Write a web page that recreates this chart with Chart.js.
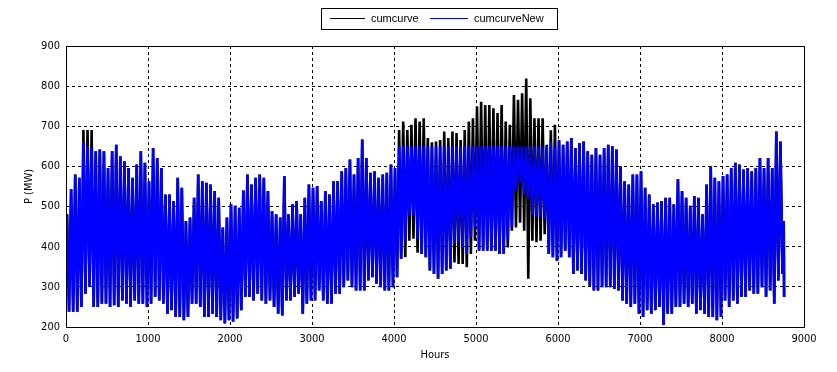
<!DOCTYPE html>
<html>
<head>
<meta charset="utf-8">
<script src="https://cdn.jsdelivr.net/npm/chart.js@4"></script>
<style>
  html, body { margin: 0; padding: 0; background: #fff; }
  #wrap { width: 837px; height: 372px; }
</style>
</head>
<body>
<div id="wrap"><canvas id="myChart" width="837" height="372"></canvas></div>
<script>
// each value is one 50 h block (0-50, 50-100, ... 8750-8760)
var blockHours = 50;
var lastHour = 8760;

// cumcurveNew: peak of the block, then valley of the block (MW)
var newPeak = [
  481,543,580,572,662,650,646,638,642,638,
  596,638,654,625,613,596,572,605,638,609,
  563,646,621,596,530,530,514,572,547,464,
  473,522,580,563,559,555,539,522,448,473,
  506,502,497,540,580,555,572,580,572,539,
  489,481,473,576,481,506,514,481,522,555,
  547,551,514,539,530,563,563,588,596,617,
  580,621,667,621,584,588,572,580,584,605,
  596,650,650,650,650,650,650,650,650,650,
  650,650,650,650,650,650,650,650,650,650,
  650,650,650,650,650,650,650,650,650,650,
  650,650,650,650,650,650,650,650,660,650,
  665,654,662,671,646,658,662,638,629,646,
  629,646,654,650,642,600,563,555,580,580,
  588,547,530,506,510,514,522,522,506,568,
  539,522,502,526,522,481,555,600,572,563,
  576,580,596,609,605,592,596,588,596,621,
  596,621,596,687,662,464];
var newValley = [
  238,238,238,250,283,300,250,250,258,258,
  250,254,250,266,258,250,266,258,258,250,
  258,275,266,258,233,242,225,225,217,225,
  258,258,250,225,225,233,225,217,209,217,
  213,221,242,275,275,266,283,266,258,266,
  250,233,229,266,266,275,283,233,258,266,
  266,291,266,258,258,283,283,299,316,299,
  291,291,291,316,324,308,299,291,291,299,
  324,370,415,480,480,420,382,374,341,332,
  320,332,341,345,407,415,398,382,423,448,
  390,390,390,390,390,382,382,420,450,540,
  560,530,520,480,475,475,470,382,374,365,
  374,390,374,332,341,332,316,303,291,291,
  299,299,299,295,291,266,258,250,258,233,
  225,242,233,242,250,205,233,233,250,250,
  258,250,258,233,242,233,225,225,217,225,
  266,250,266,258,275,275,291,283,283,299,
  275,291,258,316,332,275];

// cumcurve: original load, peaks above 650 MW not shaved
var oldPeak = [
  481,543,580,572,691,691,691,638,642,638,
  596,638,654,625,613,596,572,605,638,609,
  563,646,621,596,530,530,514,572,547,464,
  473,522,580,563,559,555,539,522,448,473,
  506,502,497,540,580,555,572,580,572,539,
  489,481,473,576,481,506,514,481,522,555,
  547,551,514,539,530,563,563,588,596,617,
  580,621,667,621,584,588,572,580,584,605,
  596,691,712,691,704,720,712,720,671,660,
  662,666,687,671,687,683,666,691,712,720,
  749,761,753,753,745,733,753,712,704,778,
  766,782,819,770,720,720,720,654,690,704,
  665,654,662,671,646,658,662,638,629,646,
  629,646,654,650,642,600,563,555,580,580,
  588,547,530,506,510,514,522,522,506,568,
  539,522,502,526,522,481,555,600,572,563,
  576,580,596,609,605,592,596,588,596,621,
  596,621,596,687,662,464];
var oldValley = [
  238,238,238,250,283,300,250,250,258,258,
  250,254,250,266,258,250,266,258,258,250,
  258,275,266,258,233,242,225,225,217,225,
  258,258,250,225,225,233,225,217,209,217,
  213,221,242,275,275,266,283,266,258,266,
  250,233,229,266,266,275,283,233,258,266,
  266,291,266,258,258,283,283,299,316,299,
  291,291,291,316,324,308,299,291,291,299,
  324,370,374,415,420,385,382,374,341,332,
  320,332,341,345,361,357,357,349,382,415,
  390,390,390,390,390,382,382,398,440,448,
  460,440,320,415,411,415,431,382,374,365,
  374,390,374,332,341,332,316,303,291,291,
  299,299,299,295,291,266,258,250,258,233,
  225,242,233,242,250,205,233,233,250,250,
  258,250,258,233,242,233,225,225,217,225,
  266,250,266,258,275,275,291,283,283,299,
  275,291,258,316,332,275];

var xTicks = [0,1000,2000,3000,4000,5000,6000,7000,8000,9000];
var yTicks = [200,300,400,500,600,700,800,900];

function toPoints(peaks, valleys) {
  var pts = [];
  peaks.forEach(function(p, i) {
    var s = i * blockHours;
    var w = Math.min(blockHours, lastHour - s);
    pts.push({ x: s + w * 0.25, y: p });
    pts.push({ x: s + w * 0.75, y: valleys[i] });
  });
  return pts;
}

// MATLAB style boxed legend + plot frame
var frame = {
  id: 'frame',
  afterDraw: function(chart) {
    var ctx = chart.ctx, a = chart.chartArea;
    ctx.save();
    ctx.strokeStyle = '#000';
    ctx.lineWidth = 1;
    ctx.setLineDash([]);
    ctx.strokeRect(Math.round(a.left) + 0.5, Math.round(a.top) + 0.5,
      Math.round(a.right - a.left), Math.round(a.bottom - a.top));
    // legend
    ctx.fillStyle = '#fff';
    ctx.fillRect(321, 8, 236, 21);
    ctx.strokeRect(321.5, 8.5, 236, 21);
    ctx.font = '11px "Liberation Sans", Arial, sans-serif';
    ctx.textBaseline = 'middle';
    var xs = [[330, 365, 371], [430, 468, 474]];
    chart.data.datasets.forEach(function(ds, i) {
      ctx.strokeStyle = ds.borderColor;
      ctx.beginPath();
      ctx.moveTo(xs[i][0], 18.5);
      ctx.lineTo(xs[i][1], 18.5);
      ctx.stroke();
      ctx.fillStyle = '#000';
      ctx.fillText(ds.label, xs[i][2], 19);
    });
    ctx.restore();
  }
};

var tickFont = { family: '"Liberation Sans Narrow", "DejaVu Sans Condensed", Arial, sans-serif', size: 11 };

new Chart(document.getElementById('myChart').getContext('2d'), {
  type: 'line',
  data: {
    datasets: [
      { label: 'cumcurve', data: toPoints(oldPeak, oldValley), borderColor: '#000000',
        backgroundColor: '#000000', borderWidth: 2.6, pointRadius: 0, tension: 0, order: 1 },
      { label: 'cumcurveNew', data: toPoints(newPeak, newValley), borderColor: '#0000ff',
        backgroundColor: '#0000ff', borderWidth: 2.6, pointRadius: 0, tension: 0, order: 0 }
    ]
  },
  options: {
    responsive: false,
    animation: false,
    devicePixelRatio: 1,
    layout: { padding: { left: 0, right: 33, top: 46, bottom: 0 } },
    plugins: { legend: { display: false }, tooltip: { enabled: false } },
    scales: {
      x: {
        type: 'linear', min: 0, max: 9000, z: 1,
        afterBuildTicks: function(s) { s.ticks = xTicks.map(function(v) { return { value: v }; }); },
        afterFit: function(s) { s.height = 45; },
        ticks: { color: '#000', font: tickFont, maxRotation: 0, padding: 6,
                 callback: function(v) { return String(v); } },
        grid: { color: '#000', lineWidth: 1, drawTicks: false },
        border: { display: false, dash: [3, 3] },
        title: { display: true, text: 'Hours', color: '#000', font: tickFont, padding: { top: 0, bottom: 10 } }
      },
      y: {
        min: 200, max: 900, z: 1,
        afterBuildTicks: function(s) { s.ticks = yTicks.map(function(v) { return { value: v }; }); },
        afterFit: function(s) { s.width = 66; },
        ticks: { color: '#000', font: tickFont, padding: 6 },
        grid: { color: '#000', lineWidth: 1, drawTicks: false },
        border: { display: false, dash: [3, 3] },
        title: { display: true, text: 'P (MW)', color: '#000', font: tickFont, padding: { top: 23, bottom: 0 } }
      }
    }
  },
  plugins: [frame]
});
</script>
</body>
</html>
